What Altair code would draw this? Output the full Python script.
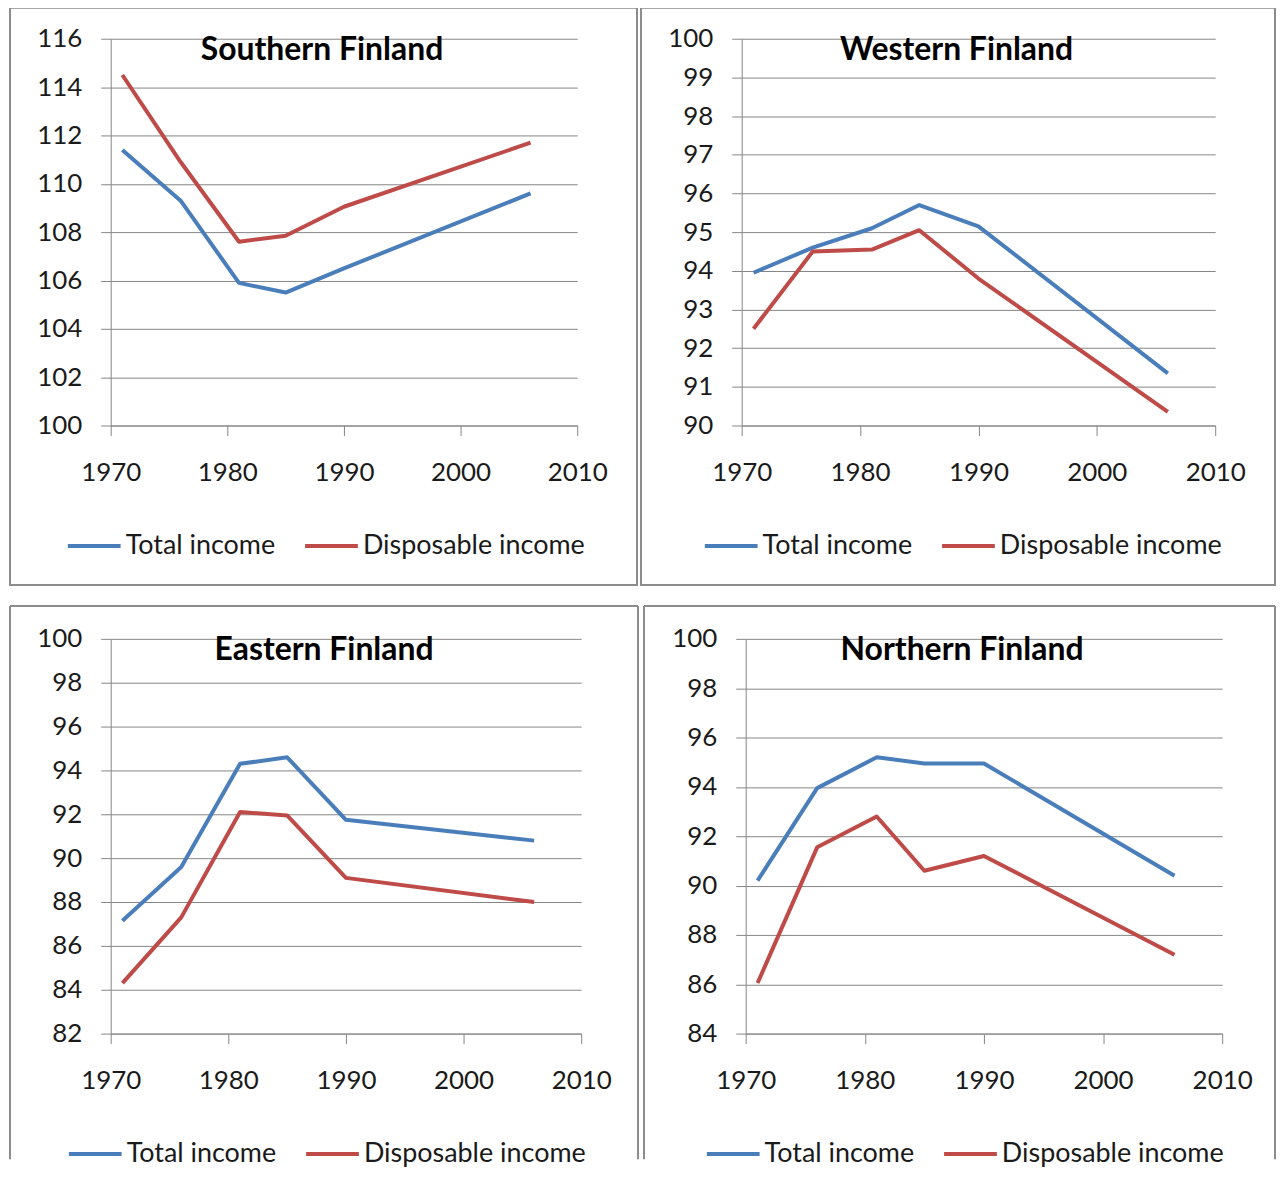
import altair as alt
import pandas as pd

years = [1971, 1976, 1981, 1985, 1990, 2006]
series_names = ["Total income", "Disposable income"]
colors = ["#4A7EBB", "#BE4B48"]

south_total = [111.4, 109.3, 105.9, 105.5, 106.5, 109.6]
south_disp = [114.5, 110.9, 107.6, 107.85, 109.05, 111.7]
west_total = [93.95, 94.6, 95.1, 95.7, 95.15, 91.35]
west_disp = [92.5, 94.5, 94.55, 95.05, 93.8, 90.35]
east_total = [87.15, 89.6, 94.3, 94.6, 91.75, 90.8]
east_disp = [84.3, 87.3, 92.1, 91.95, 89.1, 88.0]
north_total = [90.2, 93.95, 95.2, 94.95, 94.95, 90.4]
north_disp = [86.05, 91.55, 92.8, 90.6, 91.2, 87.2]

x_ticks = [1970, 1980, 1990, 2000, 2010]

FONT = "Lato"
GRID = "#868686"
FRAME = "#8C8C8C"


def make_df(total, disp):
    rows = []
    for name, vals in zip(series_names, [total, disp]):
        for yr, v in zip(years, vals):
            rows.append({"year": yr, "series": name, "value": v})
    return pd.DataFrame(rows)


def panel(title, total, disp, ymin, ymax, ystep, w, h, fl, fr, ft, fb, legx, legy, closed):
    df = make_df(total, disp)
    yvals = list(range(ymin, ymax + 1, ystep))
    lines = alt.Chart(df).mark_line(strokeWidth=4, strokeJoin="round").encode(
        x=alt.X("year:Q", title=None,
                scale=alt.Scale(domain=[1970, 2010], nice=False, zero=False),
                axis=alt.Axis(values=x_ticks, format="d", grid=False, tickSize=10,
                              labelPadding=24, labelFlush=False, labelOverlap=False)),
        y=alt.Y("value:Q", title=None,
                scale=alt.Scale(domain=[ymin, ymax], nice=False, zero=False),
                axis=alt.Axis(values=yvals, format="d", grid=True, tickSize=10,
                              labelPadding=19, labelFlush=False, labelOverlap=False)),
        color=alt.Color("series:N",
                        scale=alt.Scale(domain=series_names, range=colors),
                        legend=alt.Legend(title=None, orient="none", direction="horizontal",
                                          legendX=legx, legendY=h + legy,
                                          symbolType="stroke", symbolSize=2800,
                                          symbolStrokeWidth=4, labelFont=FONT,
                                          labelFontSize=27, labelColor="#1A1A1A",
                                          labelLimit=400, labelOffset=3,
                                          columnPadding=21)),
        order=alt.Order("series:N", sort="descending"),
    )
    one = pd.DataFrame({"k": [0]})
    if closed:
        frame = alt.Chart(one).mark_rect(fillOpacity=0, stroke=FRAME, strokeWidth=2).encode(
            x=alt.value(fl), x2=alt.value(w + fr), y=alt.value(ft), y2=alt.value(h + fb))
        frames = [frame]
    else:
        left = alt.Chart(one).mark_rule(color=FRAME, strokeWidth=2).encode(
            x=alt.value(fl), y=alt.value(ft), y2=alt.value(h + fb))
        right = alt.Chart(one).mark_rule(color=FRAME, strokeWidth=2).encode(
            x=alt.value(w + fr), y=alt.value(ft), y2=alt.value(h + fb))
        top = alt.Chart(one).mark_rule(color=FRAME, strokeWidth=2).encode(
            x=alt.value(fl), x2=alt.value(w + fr), y=alt.value(ft))
        frames = [left, right, top]
    ttl = alt.Chart(pd.DataFrame({"t": [title]})).mark_text(
        font=FONT, fontSize=32, fontWeight="bold", color="black",
        align="center", baseline="alphabetic").encode(
        text="t:N", x=alt.value(w / 2 - 22), y=alt.value(21))
    return alt.layer(*frames, lines, ttl).properties(width=w, height=h)


p1 = panel("Southern Finland", south_total, south_disp, 100, 116, 2,
           468, 388, -101, 60, -31, 160, -45, 92, True)
p2 = panel("Western Finland", west_total, west_disp, 90, 100, 1,
           475, 388, -101, 60, -31, 160, -39, 92, True)
p3 = panel("Eastern Finland", east_total, east_disp, 82, 100, 2,
           472, 396, -101, 57, -33, 126, -44, 92, False)
p4 = panel("Northern Finland", north_total, north_disp, 84, 100, 2,
           478, 396, -102, 53, -33, 126, -41, 92, False)

row1 = alt.hconcat(p1, p2, spacing=0).resolve_legend(color="independent").resolve_scale(color="independent")
row2 = alt.hconcat(p3, p4, spacing=2).resolve_legend(color="independent").resolve_scale(color="independent")

chart = alt.vconcat(row1, row2, spacing=17).resolve_legend(color="independent").resolve_scale(
    color="independent").properties(
    padding={"left": 0, "top": -4, "right": 0, "bottom": 0},
    background="white").configure_view(
    stroke="transparent").configure_axis(
    gridColor=GRID, domainColor=GRID, tickColor=GRID, gridWidth=1, domainWidth=1,
    tickWidth=1, labelFont=FONT, labelFontSize=26, labelColor="#1A1A1A")

chart.save("out.html", embed_options={"renderer": "svg", "actions": False})
